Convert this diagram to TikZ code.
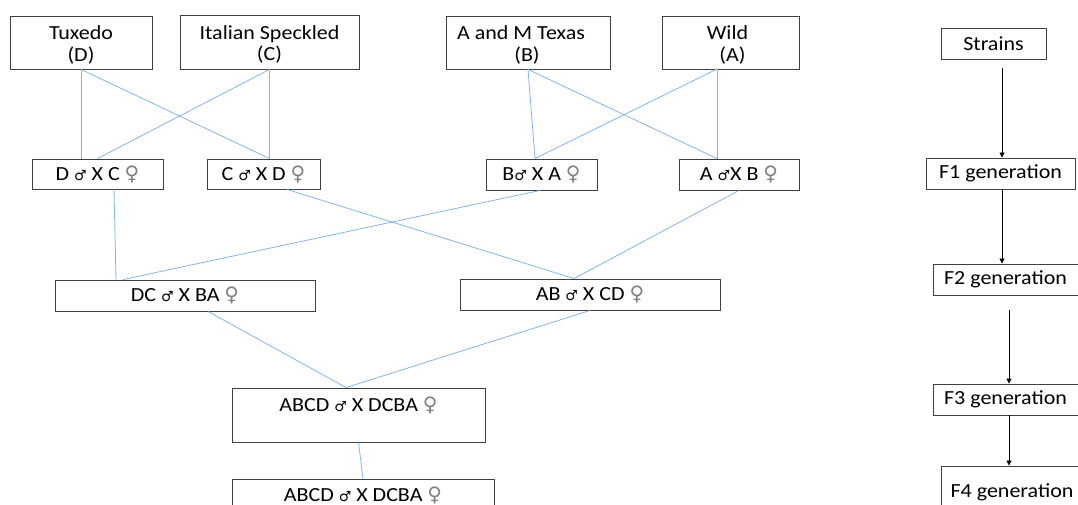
\documentclass[tikz,border=0pt]{standalone}
\usepackage{fontspec}
\setmainfont{Carlito}[FakeStretch=1.1]
\newfontfamily\symf{DejaVu Sans}
\usetikzlibrary{arrows.meta}
\definecolor{linkblue}{HTML}{85B4E6}
\definecolor{boxgray}{HTML}{404040}
\newcommand{\mle}{{\symf\fontsize{14}{14}\selectfont ♂}}
\newcommand{\fml}{{\symf\fontsize{20}{20}\selectfont\color{gray}♀}}
\tikzset{
  box/.style={draw=boxgray, line width=0.9pt, inner sep=0pt, align=center,
    font=\fontsize{20}{21.5}\selectfont, text=black},
  link/.style={draw=linkblue, line width=0.8pt},
  arr/.style={draw=black, line width=0.8pt, -{Triangle[width=5pt,length=5pt]}}
}
\begin{document}
\begin{tikzpicture}[x=1pt,y=-1pt]
\useasboundingbox (0,0) rectangle (1078,505);
% top strains
\node[box, minimum width=142, minimum height=53] (tux) at (81,42.5) {\rule{0pt}{19pt}Tuxedo\\(D)};
\node[box, minimum width=179, minimum height=54] (ita) at (269.5,42) {\rule{0pt}{19pt}Italian Speckled\\(C)};
\node[box, minimum width=164, minimum height=53] (amt) at (528,42.5) {\rule{0pt}{19pt}\hspace*{-14pt}A and M Texas\\\hspace*{-2pt}(B)};
\node[box, minimum width=137, minimum height=53] (wild) at (730.5,42.5) {\rule{0pt}{19pt}\hspace*{-6pt}Wild\\\hspace*{4pt}(A)};
% F1 crosses
\node[box, minimum width=131, minimum height=30] (dc1) at (97.5,174) {D \mle{} X C \fml};
\node[box, minimum width=113, minimum height=30] (cd1) at (263.5,174) {C \mle{} X D \fml};
\node[box, minimum width=111, minimum height=31] (ba1) at (541.5,174.5) {B\mle{} X A \fml};
\node[box, minimum width=120, minimum height=31] (ab1) at (739,174.5) {A \mle{}X B \fml};
% F2 crosses
\node[box, minimum width=260, minimum height=31] (dcba) at (185,295.5) {DC \mle{} X BA \fml};
\node[box, minimum width=260, minimum height=31] (abcd) at (590,294.5) {AB \mle{} X CD \fml};
% F3 / F4
\node[box, minimum width=253, minimum height=54] (f3) at (358.5,415) {ABCD \mle{} X DCBA \fml\\\mbox{}};
\node[box, minimum width=262, minimum height=32] (f4) at (363,495) {ABCD \mle{} X DCBA \fml};
% right column
\node[box, minimum width=105, minimum height=31] (strains) at (993.5,43.5) {Strains};
\node[box, minimum width=149, minimum height=31] (g1) at (1000.5,173.5) {F1 generation};
\node[box, minimum width=150, minimum height=31] (g2) at (1008,279.5) {\hspace*{-5pt}F2 generation};
\node[box, minimum width=150, minimum height=31] (g3) at (1008,399.5) {\hspace*{-5pt}F3 generation};
\node[box, minimum width=150, minimum height=52] (g4) at (1016,492) {\hspace*{-8pt}F4 generation};
% coordinates
\coordinate (wb) at (717,69);
\coordinate (s1) at (1002,68);
\coordinate (s2) at (1009,310);
% blue links
\draw[link] (tux.south) -- (tux.south |- dc1.north);
\draw[link] (tux.south) -- (ita.south |- cd1.north);
\draw[link] (ita.south) -- (ita.south |- cd1.north);
\draw[link] (ita.south) -- (dc1.north);
\draw[link] (amt.south) -- ([xshift=-6.5pt]ba1.north);
\draw[link] (amt.south) -- (wb |- ab1.north);
\draw[link] (wb) -- (wb |- ab1.north);
\draw[link] (wb) -- ([xshift=-6.5pt]ba1.north);
\draw[link] ([xshift=16.5pt]dc1.south) -- ([xshift=-69pt]dcba.north);
\draw[link] ([xshift=-1.5pt]ba1.south) -- ([xshift=-62pt]dcba.north);
\draw[link] ([xshift=23.5pt]cd1.south) -- ([xshift=-16pt]abcd.north);
\draw[link] (ab1.south) -- ([xshift=-16pt]abcd.north);
\draw[link] ([xshift=23pt]dcba.south) -- ([xshift=-12.5pt]f3.north);
\draw[link] (abcd.south) -- ([xshift=-12.5pt]f3.north);
\draw[link] (f3.south) -- (f4.north);
% black arrows
\draw[arr] (s1) -- (s1 |- g1.north);
\draw[arr] (s1 |- g1.south) -- (s1 |- g2.north);
\draw[arr] (s2) -- (s2 |- g3.north);
\draw[arr] (s2 |- g3.south) -- (s2 |- g4.north);
\end{tikzpicture}
\end{document}
